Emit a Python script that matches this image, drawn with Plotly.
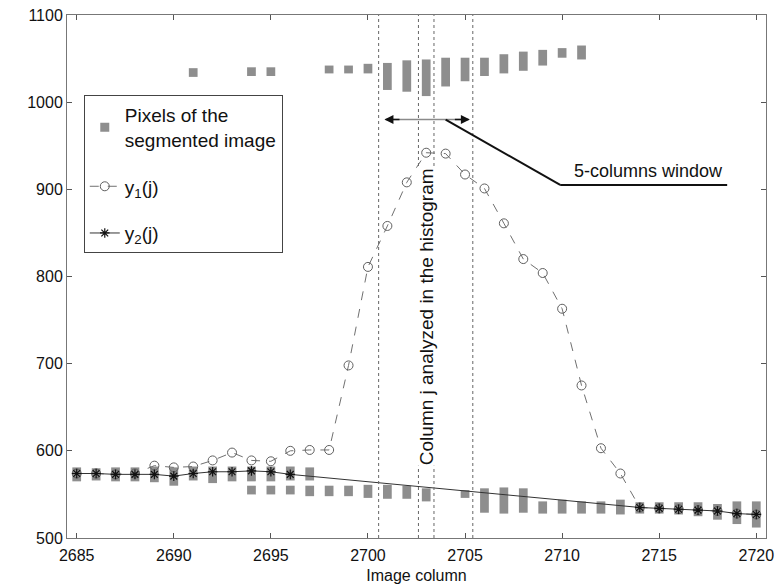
import plotly.graph_objects as go

# ---------------- data ----------------
columns = list(range(2685, 2721))
y1_values = [574, 574, 573, 574, 583, 581, 582, 589, 598, 589, 588, 600, 601, 601,
             698, 811, 858, 908, 942, 941, 917, 901, 861, 820, 804, 763, 675, 603,
             574, 535, 534, 533, 532, 531, 528, 527]

y2_columns = [2685, 2686, 2687, 2688, 2689, 2690, 2691, 2692, 2693, 2694, 2695, 2696,
              2714, 2715, 2716, 2717, 2718, 2719, 2720]
y2_values = [574, 574, 573, 573, 573, 571, 574, 576, 576, 577, 576, 573,
             535, 534, 533, 532, 531, 528, 527]

# segmented-image pixel runs: column, lower value, upper value
seg_columns = [2691, 2694, 2695, 2698, 2699, 2700, 2701, 2702, 2703, 2704, 2705, 2706,
               2707, 2708, 2709, 2710, 2711,
               2685, 2686, 2687, 2688, 2689, 2690, 2691, 2692, 2693,
               2694, 2694, 2695, 2695, 2696, 2696, 2697, 2697,
               2698, 2699, 2700, 2701, 2702, 2703, 2705, 2706, 2707, 2708,
               2709, 2710, 2711, 2712, 2713, 2714, 2715, 2716, 2717, 2718, 2719, 2720]
seg_low = [1029, 1030, 1030, 1033, 1033, 1033, 1014, 1012, 1007, 1018, 1024, 1030,
           1033, 1036, 1042, 1051, 1049,
           565, 566, 565, 565, 564, 560, 566, 563, 565,
           565, 550, 565, 550, 566, 550, 566, 548,
           548, 548, 546, 545, 545, 542, 546, 529, 528, 529,
           528, 528, 528, 528, 527, 528, 528, 527, 525, 521, 516, 512]
seg_high = [1039, 1040, 1040, 1042, 1042, 1044, 1045, 1048, 1049, 1051, 1051, 1051,
            1055, 1058, 1060, 1062, 1065,
            581, 580, 581, 581, 582, 581, 582, 582, 582,
            582, 560, 582, 560, 582, 560, 581, 560,
            560, 560, 561, 561, 560, 557, 555, 557, 558, 557,
            542, 544, 542, 542, 544, 541, 541, 541, 541, 539, 542, 542]

x_ticks = [2685, 2690, 2695, 2700, 2705, 2710, 2715, 2720]
y_ticks = [500, 600, 700, 800, 900, 1000, 1100]
window_lines = [2700.55, 2702.6, 2703.4, 2705.4]

FONT = "Liberation Sans, Arial, sans-serif"
BAR_GRAY = "#8e8e8e"

fig = go.Figure()

fig.add_trace(go.Bar(
    x=seg_columns,
    y=[h - l for h, l in zip(seg_high, seg_low)],
    base=seg_low,
    width=0.45,
    marker=dict(color=BAR_GRAY, line=dict(width=0)),
    name="Pixels of the<br>segmented image",
    showlegend=False,
))
# legend-only entry with a small square symbol
fig.add_trace(go.Scatter(
    x=[None], y=[None], mode="markers",
    marker=dict(symbol="square", size=9, color=BAR_GRAY),
    name="Pixels of the<br>segmented image",
    legendgroup="a",
))

fig.add_trace(go.Scatter(
    x=columns, y=y1_values, mode="lines+markers",
    line=dict(color="#707070", width=1, dash="dash"),
    marker=dict(symbol="circle-open", size=9, color="#606060", line=dict(width=1)),
    name="y<sub>1</sub>(j)",
    legendgroup="b",
))

fig.add_trace(go.Scatter(
    x=y2_columns, y=y2_values, mode="lines+markers",
    line=dict(color="#333333", width=1),
    marker=dict(symbol="asterisk-open", size=8, color="#111111", line=dict(width=1.2, color="#111111")),
    name="y<sub>2</sub>(j)",
    legendgroup="c",
))

shapes = []
for xv in window_lines:
    shapes.append(dict(type="line", xref="x", yref="y", x0=xv, x1=xv, y0=500, y1=1100,
                       line=dict(color="#666666", width=1, dash="dot"), layer="above"))
# double arrow shaft
shapes.append(dict(type="line", xref="x", yref="y", x0=2700.9, x1=2705.2, y0=980, y1=980,
                   line=dict(color="#8a8a8a", width=1.5)))
# leader line
shapes.append(dict(type="line", xref="x", yref="y", x0=2704.0, x1=2709.9, y0=980, y1=905,
                   line=dict(color="#111111", width=2)))
shapes.append(dict(type="line", xref="x", yref="y", x0=2709.9, x1=2718.5, y0=905, y1=905,
                   line=dict(color="#111111", width=2)))

annotations = [
    dict(x=2700.85, y=980, ax=2701.7, ay=980, xref="x", yref="y", axref="x", ayref="y",
         text="", showarrow=True, arrowhead=2, arrowsize=1.2, arrowwidth=1.5, arrowcolor="#111111"),
    dict(x=2705.25, y=980, ax=2704.4, ay=980, xref="x", yref="y", axref="x", ayref="y",
         text="", showarrow=True, arrowhead=2, arrowsize=1.2, arrowwidth=1.5, arrowcolor="#111111"),
    dict(x=2714.45, y=905, xref="x", yref="y", text="5-columns window", showarrow=False,
         yanchor="bottom", yshift=2, font=dict(family=FONT, size=18, color="#111111")),
    dict(x=2703.02, y=754, xref="x", yref="y", text="Column j analyzed in the histogram",
         showarrow=False, textangle=-90, bgcolor="white", borderpad=0,
         font=dict(family=FONT, size=19, color="#111111")),
]

fig.update_layout(
    width=780, height=584,
    margin=dict(l=67, r=14, t=15, b=46),
    paper_bgcolor="white", plot_bgcolor="white",
    barmode="overlay",
    font=dict(family=FONT, size=16, color="#111111"),
    shapes=shapes, annotations=annotations,
    showlegend=True,
    legend=dict(x=0.024, y=0.847, xanchor="left", yanchor="top",
                bgcolor="white", bordercolor="#444444", borderwidth=1,
                font=dict(family=FONT, size=19, color="#111111"),
                tracegroupgap=19, traceorder="grouped"),
)

fig.update_xaxes(range=[2684.5, 2720.5], tickvals=x_ticks, ticks="inside", ticklen=5,
                 tickcolor="#555555", showline=True, linecolor="#777777", linewidth=1,
                 mirror="ticks", showgrid=False, zeroline=False, automargin=False,
                 tickfont=dict(size=16), ticklabelstandoff=3,
                 title=dict(text="Image column", font=dict(size=16), standoff=8))
fig.update_yaxes(range=[500, 1100], tickvals=y_ticks, ticks="inside", ticklen=5,
                 tickcolor="#555555", showline=True, linecolor="#777777", linewidth=1,
                 mirror="ticks", showgrid=False, zeroline=False, automargin=False,
                 tickfont=dict(size=16))

fig.write_html("out.html")
